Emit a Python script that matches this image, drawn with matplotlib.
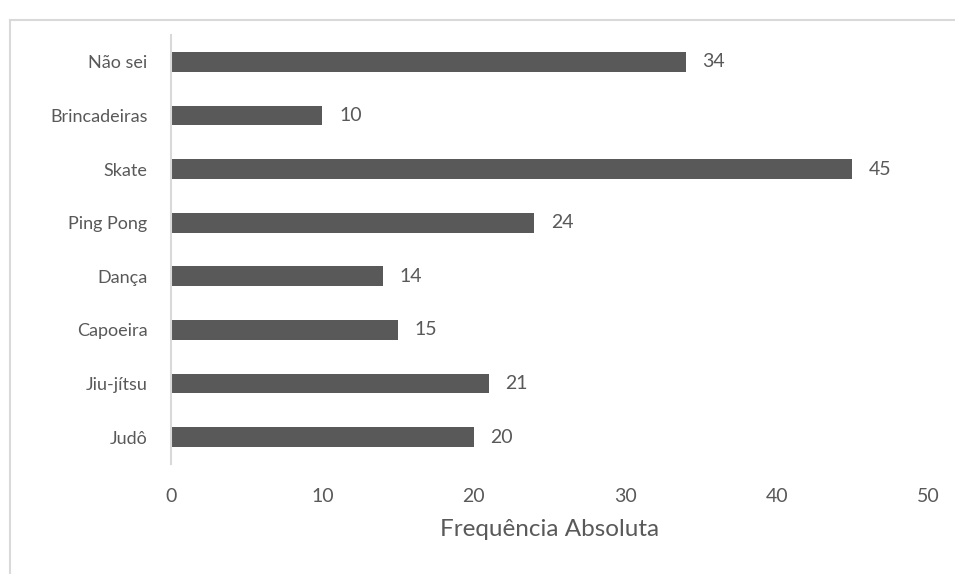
import matplotlib
matplotlib.use("Agg")
import matplotlib.pyplot as plt
from matplotlib.lines import Line2D

categories = ["Judô", "Jiu-jítsu", "Capoeira", "Dança", "Ping Pong", "Skate", "Brincadeiras", "Não sei"]
values = [20, 21, 15, 14, 24, 45, 10, 34]
xticks = [0, 10, 20, 30, 40, 50]

bar_color = "#595959"
text_color = "#595959"

plt.rcParams["font.family"] = ["Lato", "DejaVu Sans"]

fig = plt.figure(figsize=(9.55, 5.74), dpi=100)
ax = fig.add_axes([171 / 955, 1 - 464 / 574, (928 - 171) / 955, (464 - 35) / 574])

ypos = list(range(len(categories)))
ax.barh(ypos, values, height=0.37, color=bar_color)
for y, v in zip(ypos, values):
    ax.text(v + 1.1, y, str(v), va="center", ha="left", fontsize=14, color=text_color)

ax.set_xlim(0, 50)
ax.set_ylim(-0.5, len(categories) - 0.5)
ax.set_yticks(ypos)
ax.set_yticklabels(categories, fontsize=13, color=text_color)
ax.set_xticks(xticks)
ax.set_xticklabels([str(t) for t in xticks], fontsize=14, color=text_color)
ax.tick_params(axis="both", length=0)
ax.tick_params(axis="y", pad=17)
ax.tick_params(axis="x", pad=17)
ax.set_xlabel("Frequência Absoluta", fontsize=17.5, color=text_color, labelpad=10)

for s in ["top", "right", "bottom"]:
    ax.spines[s].set_visible(False)
ax.spines["left"].set_color("#d9d9d9")
ax.spines["left"].set_linewidth(1.5)

# outer frame of the chart area
fig.add_artist(Line2D([10 / 955, 10 / 955], [0, 1 - 20 / 574], transform=fig.transFigure, color="#d9d9d9", lw=1.5))
fig.add_artist(Line2D([10 / 955, 1], [1 - 20 / 574, 1 - 20 / 574], transform=fig.transFigure, color="#d9d9d9", lw=1.5))

fig.savefig("out.png", dpi=100)
